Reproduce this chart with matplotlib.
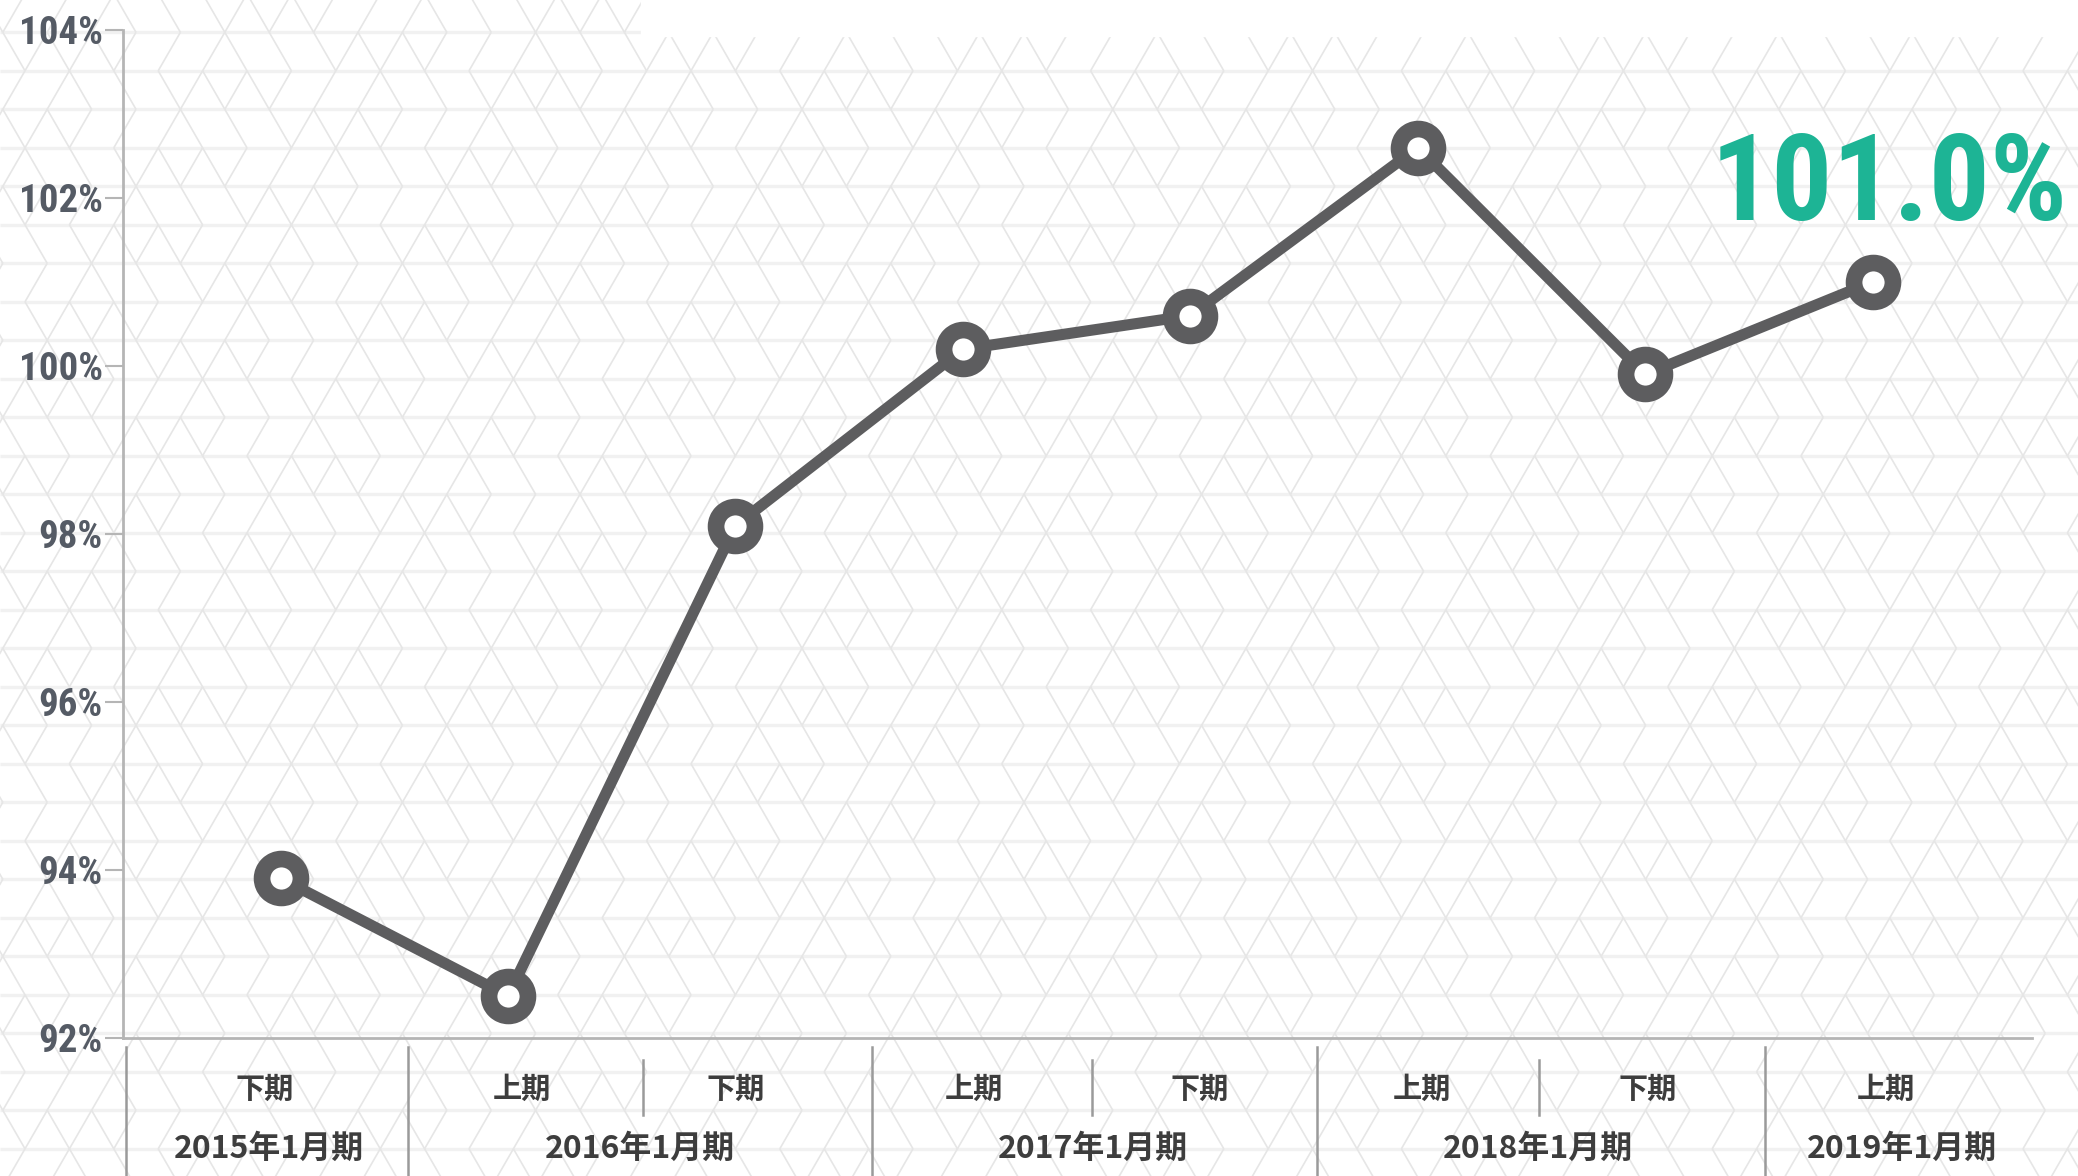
import numpy as np
import matplotlib.pyplot as plt
from matplotlib import font_manager
from matplotlib.collections import LineCollection
from matplotlib.transforms import blended_transform_factory

# data
periods = ["下期", "上期", "下期", "上期", "下期", "上期", "下期", "上期"]
years = ["2015年1月期", "2016年1月期", "2017年1月期", "2018年1月期", "2019年1月期"]
values = [93.9, 92.5, 98.1, 100.2, 100.6, 102.6, 99.9, 101.0]
yticks = [92, 94, 96, 98, 100, 102, 104]

# layout of the category band under the axis (data x units)
period_x = [-0.07, 1.06, 2.0, 3.05, 4.04, 5.02, 6.01, 7.06]
year_x = [-0.05, 1.58, 3.57, 5.53, 7.13]
sep_major = [-0.68, 0.56, 2.60, 4.557, 6.527]
sep_minor = [1.594, 3.567, 5.533]

# pick a narrow face for the numbers if one is there
installed = {f.name for f in font_manager.fontManager.ttflist}
narrow = None
for name in ["Roboto Condensed", "Liberation Sans Narrow", "DejaVu Sans Condensed"]:
    if name in installed:
        narrow = name
        break
if narrow:
    num_font, tick_size, big_size = [narrow, "DejaVu Sans"], 28, 87
else:
    num_font, tick_size, big_size = ["Roboto", "DejaVu Sans"], 25, 78

W, H = 2078, 1176
fig = plt.figure(figsize=(W / 100, H / 100), dpi=100)

# background: faint triangle pattern
bg = fig.add_axes([0, 0, 1, 1], zorder=0)
bg.set_xlim(0, W)
bg.set_ylim(H, 0)
bg.axis("off")
side, rh = 44.4, 38.5
hlines, diag = [], []
for i in range(-1, 32):
    y = 32.3 + i * rh
    hlines.append([(0, y), (W, y)])
    off = 2.8 + (i % 2) * 22.2
    for k in range(-2, 50):
        x = off + k * side
        for d, dx in enumerate((-22.2, 22.2)):
            if (k * 3 + i * 5 + d * 2) % 7 in (0, 4):
                continue
            diag.append([(x, y), (x + dx, y + rh)])
bg.add_collection(LineCollection(hlines, colors="#f1f1f1", linewidths=2.4))
bg.add_collection(LineCollection(diag, colors="#e6e6e6", linewidths=1.2))
bg.add_patch(plt.Rectangle((641, 0), W - 641, 36, color="white", zorder=3))

ax = fig.add_axes([123 / W, 1 - 1038 / H, (2032 - 123) / W, (1038 - 30) / H], zorder=1)
ax.patch.set_alpha(0)

x = np.arange(len(values))
ax.plot(x, values, color="#5d5d5f", lw=8, marker="o", ms=28,
        mfc="white", mec="#5d5d5f", mew=12, solid_joinstyle="round", clip_on=False)

ax.set_xlim(-0.693, 7.701)
ax.set_ylim(92, 104)
ax.set_yticks(yticks)
ax.set_yticklabels([f"{v}%" for v in yticks], family=num_font,
                   fontweight="bold", fontsize=tick_size, color="#555b65")
ax.set_xticks([])
ax.tick_params(axis="y", length=13, width=1.5, color="#b5b5b5", pad=1.5)
for s in ("top", "right"):
    ax.spines[s].set_visible(False)
for s in ("left", "bottom"):
    ax.spines[s].set_color("#b5b5b5")
    ax.spines[s].set_linewidth(2)

# highlight of the latest value
ax.text(7.86, 101.74, f"{values[-1]:.1f}%", ha="right", va="baseline", fontsize=big_size,
        fontweight="bold", color="#1db495", family=num_font, clip_on=False)

# category band
tr = blended_transform_factory(ax.transData, fig.transFigure)
for sx in sep_major:
    ax.plot([sx, sx], [0, 1 - 1047 / H], transform=tr, color="#9a9a9a", lw=1.8, clip_on=False)
for sx in sep_minor:
    ax.plot([sx, sx], [1 - 1115 / H, 1 - 1060 / H], transform=tr, color="#9a9a9a", lw=1.8, clip_on=False)
cjk = ["Noto Sans CJK JP", "DejaVu Sans"]
for px, lab in zip(period_x, periods):
    ax.text(px, 1 - 1089 / H, lab, transform=tr, ha="center", va="center", fontsize=21,
            fontweight="bold", color="#3d3d3d", family=cjk)
for yx, lab in zip(year_x, years):
    ax.text(yx, 1 - 1149 / H, lab, transform=tr, ha="center", va="center", fontsize=23,
            fontweight="bold", color="#3d3d3d", family=cjk)

fig.savefig("out.png", dpi=100)
